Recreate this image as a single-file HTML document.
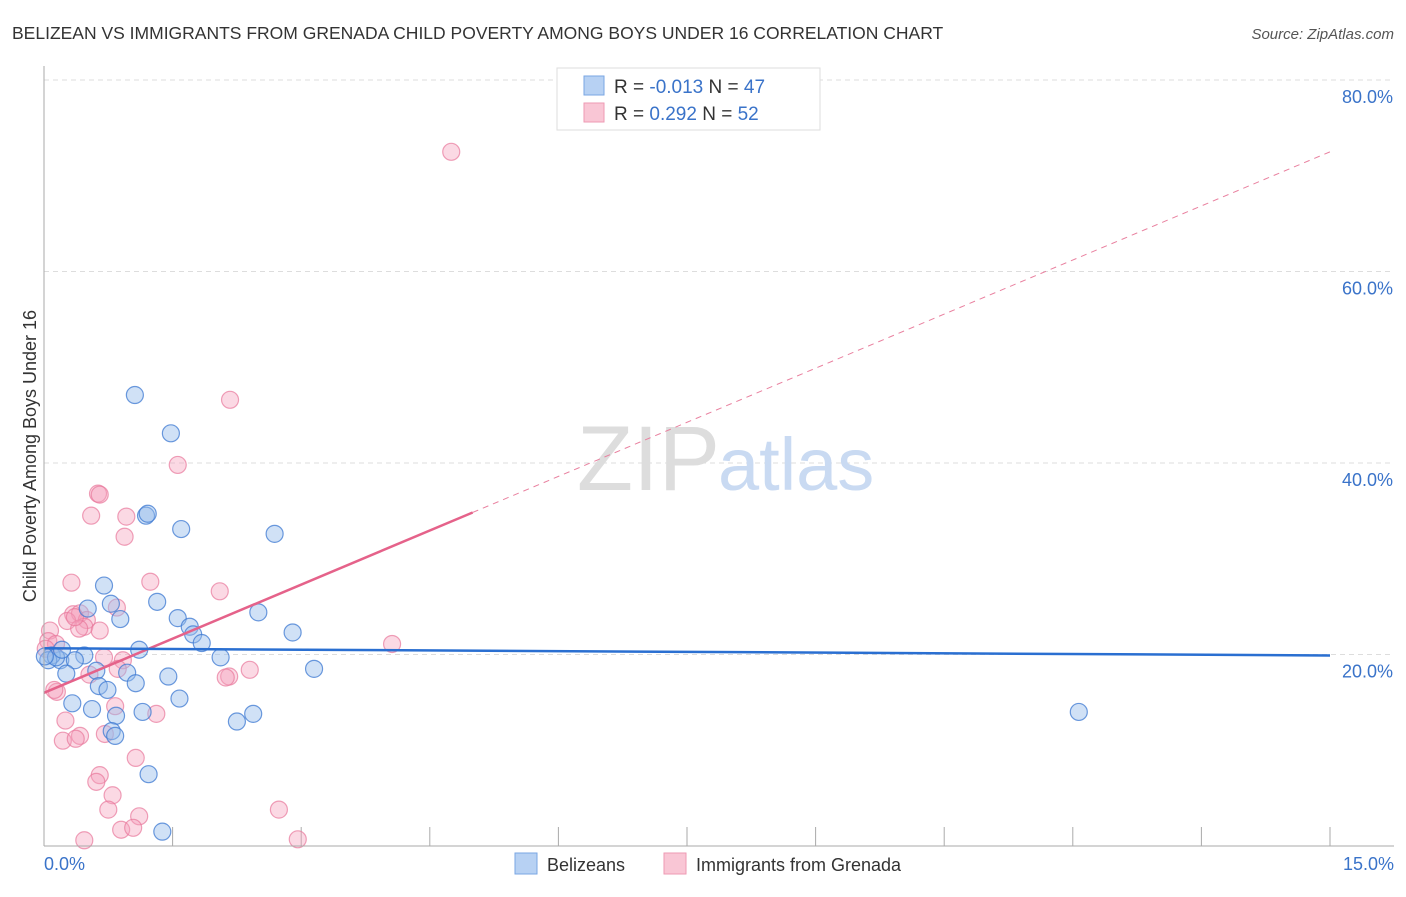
<!DOCTYPE html>
<html><head><meta charset="utf-8"><style>
body{margin:0;background:#fff;font-family:"Liberation Sans",sans-serif;}
svg text{font-family:"Liberation Sans",sans-serif;}
</style></head><body>
<svg id="c" width="1406" height="892">
<text x="12" y="39" font-size="17.5" fill="#333">BELIZEAN VS IMMIGRANTS FROM GRENADA CHILD POVERTY AMONG BOYS UNDER 16 CORRELATION CHART</text>
<text x="1394" y="39" font-size="15" fill="#555" font-style="italic" text-anchor="end">Source: ZipAtlas.com</text>
<text x="36" y="456" font-size="18" fill="#333" text-anchor="middle" transform="rotate(-90 36 456)">Child Poverty Among Boys Under 16</text>
<g id="grid"></g>
<text x="720" y="490" font-size="92" fill="#ddd" text-anchor="end" font-family="Liberation Serif">ZIP</text>
<text x="718" y="490" font-size="74" fill="#c9daf2">atlas</text>
<g id="pts"></g>
<g id="lines"></g>
<line x1="44" y1="66" x2="44" y2="846" stroke="#aaa"/>
<line x1="44" y1="846" x2="1394" y2="846" stroke="#aaa"/>
<text x="44" y="870" font-size="18" fill="#3a73c9">0.0%</text>
<text x="1394" y="870" font-size="18" fill="#3a73c9" text-anchor="end">15.0%</text>
<g>
<rect x="557" y="68" width="263" height="62" fill="#fff" stroke="#ddd"/>
<rect x="584" y="76" width="20" height="19" fill="#b7d1f3" stroke="#7aa6e3"/>
<rect x="584" y="103" width="20" height="19" fill="#f9c6d5" stroke="#ee9ab3"/>
<text x="614" y="93" font-size="19" fill="#333">R = <tspan fill="#3a73c9">-0.013</tspan>   N = <tspan fill="#3a73c9">47</tspan></text>
<text x="614" y="120" font-size="19" fill="#333">R =  <tspan fill="#3a73c9"> 0.292</tspan>   N = <tspan fill="#3a73c9">52</tspan></text>
</g>
<g>
<rect x="515" y="853" width="22" height="21" fill="#b7d1f3" stroke="#7aa6e3"/>
<text x="547" y="871" font-size="18" fill="#333">Belizeans</text>
<rect x="664" y="853" width="22" height="21" fill="#f9c6d5" stroke="#ee9ab3"/>
<text x="696" y="871" font-size="18" fill="#333">Immigrants from Grenada</text>
</g>
</svg>
<script>
const yTicks=[20,40,60,80];
const xTickCount=10;
const blueX=[10.6,14.8,11.9,12.1,16.0,26.9,7.0,7.8,13.2,5.1,8.9,15.6,25.0,17.0,17.4,18.4,29.0,11.1,20.6,31.5,4.7,1.9,0.9,0.5,1.4,3.6,6.1,9.7,14.5,10.7,6.4,7.4,3.3,5.6,15.8,11.5,8.4,7.9,8.3,22.5,24.4,12.2,13.8,120.7,2.6,2.1,0.1].map(v=>v/10);
const blueY=[47.1,43.1,34.5,34.7,33.1,32.6,27.2,25.3,25.5,24.8,23.7,23.8,24.4,22.9,22.1,21.2,22.3,20.5,19.7,18.5,19.9,19.4,19.9,19.4,19.7,19.4,18.3,18.1,17.7,17.0,16.7,16.3,14.9,14.3,15.4,14.0,13.6,12.0,11.5,13.0,13.8,7.5,1.5,14.0,18.0,20.5,19.8];
const pinkX=[47.5,21.7,15.6,6.3,6.5,5.5,9.6,9.4,3.2,12.4,20.5,8.5,3.4,4.2,5.0,2.7,4.7,4.1,6.5,0.7,40.6,0.5,7.0,9.2,8.6,5.3,24.0,21.6,21.2,1.5,1.2,8.3,13.1,2.5,7.1,2.2,4.2,3.7,10.7,6.5,6.1,8.0,7.5,11.1,9.0,10.4,27.4,4.7,29.6,3.6,1.4,0.2].map(v=>v/10);
const pinkY=[72.5,46.6,39.8,36.8,36.7,34.5,34.4,32.3,27.5,27.6,26.6,24.9,24.2,24.3,23.6,23.5,22.9,22.7,22.5,22.5,21.1,21.4,19.7,19.4,18.5,17.9,18.4,17.7,17.6,16.1,16.3,14.6,13.8,13.1,11.7,11.0,11.5,11.2,9.2,7.4,6.7,5.3,3.8,3.1,1.7,1.9,3.8,0.6,0.7,23.9,21.1,20.6];
const blueTrend=[20.65,19.9];
const pinkTrend=[16.0,72.5];
const X=v=>44+v/15*1286, Y=v=>846-v/20*191.5;
const NS='http://www.w3.org/2000/svg';
function mk(t,a,p){const e=document.createElementNS(NS,t);for(const k in a)e.setAttribute(k,a[k]);p.appendChild(e);return e;}
const grid=document.getElementById('grid');
yTicks.forEach(t=>{
 const l=mk('line',{x1:44,x2:1394,y1:Y(t),y2:Y(t),stroke:'#ddd','stroke-dasharray':'5,4'},grid);
 
 
 const tx=mk('text',{x:1393,y:Y(t)+23,'font-size':18,fill:'#3a73c9','text-anchor':'end'},grid);
 tx.textContent=t.toFixed(1)+'%';
 
 
});
for(let i=1;i<=xTickCount;i++){
 const x=X(i*1.5);
 const l=mk('line',{x1:x,x2:x,y1:827,y2:846,stroke:'#aaa'},grid);
 
 
}
const pts=document.getElementById('pts');
pinkX.forEach((v,i)=>{
 const c=mk('circle',{cx:X(v),cy:Y(pinkY[i]),r:8.5,fill:'rgba(244,160,188,0.4)',stroke:'rgba(232,120,155,0.7)','stroke-width':1.2},pts);
 
 
});
blueX.forEach((v,i)=>{
 const c=mk('circle',{cx:X(v),cy:Y(blueY[i]),r:8.5,fill:'rgba(150,188,236,0.45)',stroke:'rgba(60,120,210,0.75)','stroke-width':1.2},pts);
 
 
});
const ln=document.getElementById('lines');
const pAt=v=>pinkTrend[0]+(pinkTrend[1]-pinkTrend[0])*v/15;
let l1=mk('line',{x1:X(5),y1:Y(pAt(5)),x2:X(15),y2:Y(pAt(15)),stroke:'#e9809f','stroke-width':1,'stroke-dasharray':'6,5'},ln);


let l2=mk('line',{x1:X(0),y1:Y(pAt(0)),x2:X(5),y2:Y(pAt(5)),stroke:'#e5628a','stroke-width':2.5},ln);


let l3=mk('line',{x1:X(0),y1:Y(blueTrend[0]),x2:X(15),y2:Y(blueTrend[1]),stroke:'#2a6fd1','stroke-width':2.5},ln);


</script>
</body></html>
